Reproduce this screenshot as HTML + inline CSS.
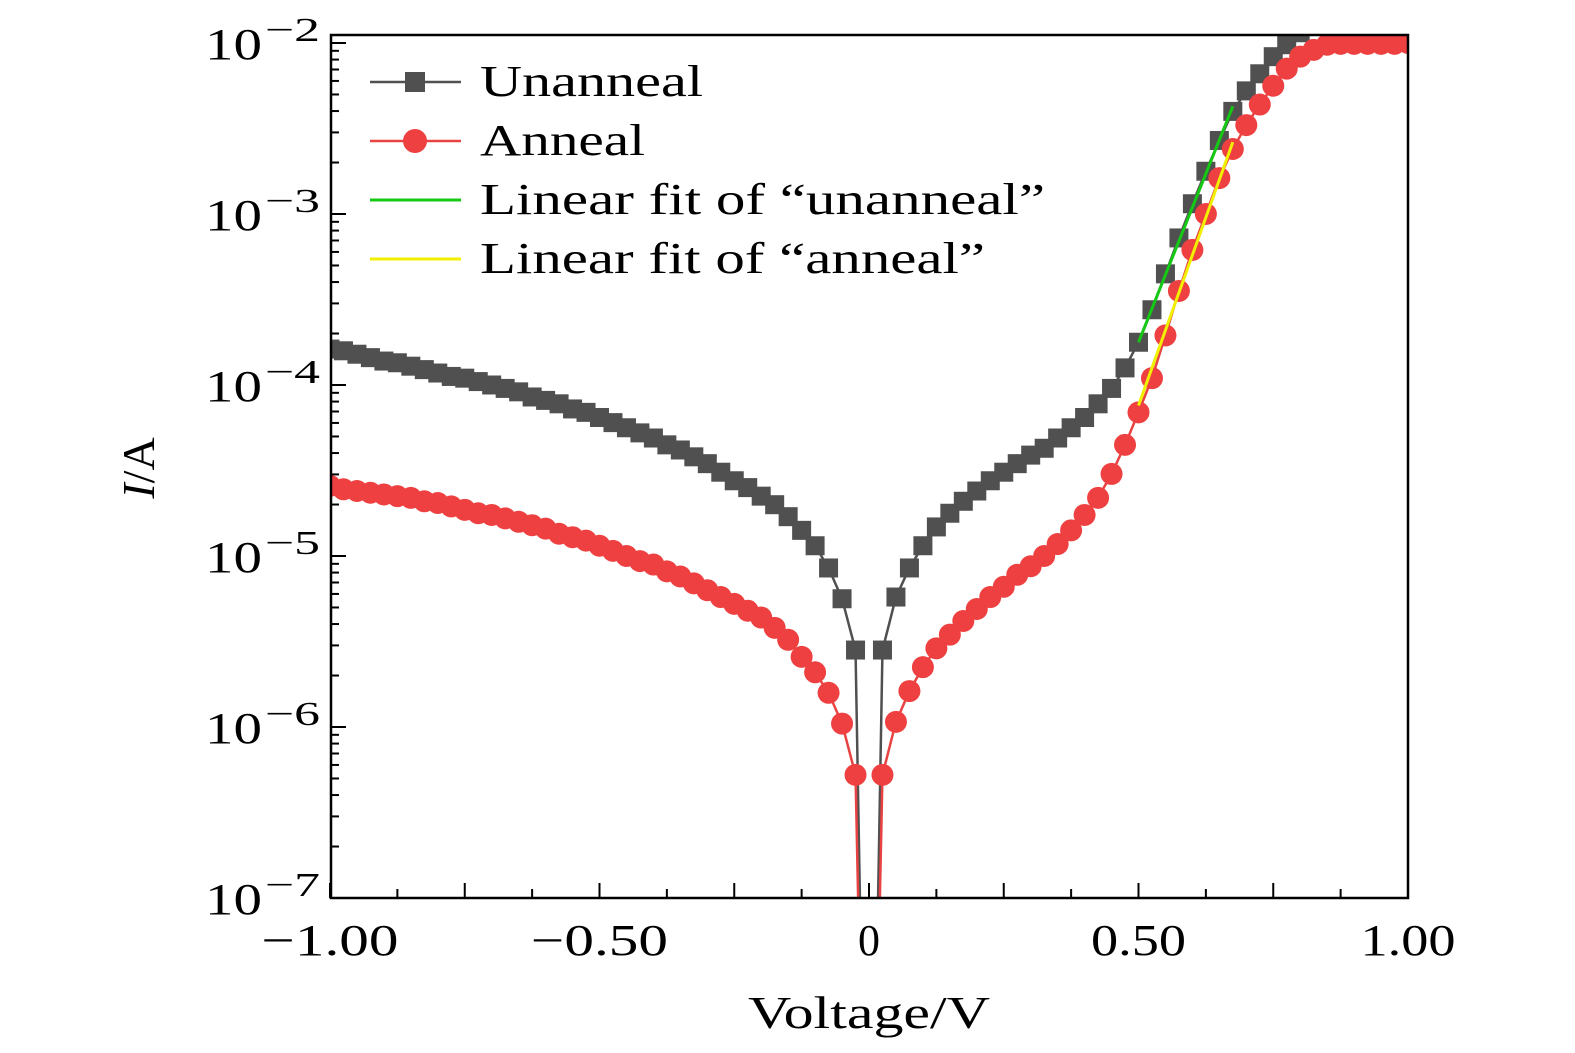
<!DOCTYPE html>
<html><head><meta charset="utf-8"><style>
html,body{margin:0;background:#fff;overflow:hidden;width:1575px;height:1053px}
svg{display:block;overflow:hidden}
svg text{font-family:"Liberation Serif",serif;fill:#000}
</style></head><body>
<svg id="chart" width="1575" height="1053" xmlns="http://www.w3.org/2000/svg">
<defs><clipPath id="clip"><rect x="331" y="35" width="1077" height="863"/></clipPath></defs>
<g id="plot" clip-path="url(#clip)"></g>
<rect x="331" y="35" width="1077" height="863" fill="none" stroke="#000" stroke-width="2.5"/>
<g id="axes"></g>
<g>
<line x1="370" y1="82" x2="461" y2="82" stroke="#505050" stroke-width="2.5"/>
<rect x="405" y="72" width="20" height="20" fill="#505050"/>
<text x="480" y="96" font-size="44" textLength="223" lengthAdjust="spacingAndGlyphs">Unanneal</text>
<line x1="370" y1="141" x2="461" y2="141" stroke="#e84242" stroke-width="2.5"/>
<circle cx="415" cy="141" r="12" fill="#ee4040"/>
<text x="480" y="155" font-size="44" textLength="165" lengthAdjust="spacingAndGlyphs">Anneal</text>
<line x1="370" y1="200" x2="461" y2="200" stroke="#14c814" stroke-width="3"/>
<text x="480" y="214" font-size="44" textLength="565" lengthAdjust="spacingAndGlyphs">Linear fit of “unanneal”</text>
<line x1="370" y1="259" x2="461" y2="259" stroke="#f0f000" stroke-width="3"/>
<text x="480" y="273" font-size="44" textLength="505" lengthAdjust="spacingAndGlyphs">Linear fit of “anneal”</text>
</g>
<text x="748" y="1028" font-size="46" textLength="242" lengthAdjust="spacingAndGlyphs">Voltage/V</text>
<text transform="translate(154,468) rotate(-90)" font-size="46" text-anchor="middle"><tspan font-style="italic">I</tspan>/A</text>
</svg>
<script>
const grayLeft=[-3.79,-3.80,-3.82,-3.84,-3.86,-3.87,-3.89,-3.91,-3.93,-3.95,-3.96,-3.98,-4.00,-4.02,-4.04,-4.07,-4.09,-4.11,-4.14,-4.16,-4.19,-4.22,-4.25,-4.28,-4.31,-4.35,-4.38,-4.42,-4.46,-4.51,-4.56,-4.60,-4.65,-4.70,-4.77,-4.85,-4.94,-5.07,-5.25,-5.55];
const grayRight=[-5.55,-5.24,-5.07,-4.94,-4.83,-4.75,-4.68,-4.62,-4.56,-4.51,-4.46,-4.41,-4.37,-4.31,-4.25,-4.19,-4.11,-4.02,-3.90,-3.75,-3.56,-3.35,-3.14,-2.94,-2.75,-2.57,-2.40,-2.28,-2.18,-2.08,-2.01,-1.94,-1.88,-1.83,-1.80,-1.78,-1.76,-1.75,-1.74,-1.73];
const redLeft=[-4.59,-4.61,-4.62,-4.63,-4.64,-4.65,-4.66,-4.68,-4.69,-4.71,-4.73,-4.75,-4.76,-4.78,-4.80,-4.82,-4.84,-4.87,-4.89,-4.91,-4.94,-4.97,-5.00,-5.03,-5.05,-5.09,-5.12,-5.16,-5.20,-5.24,-5.28,-5.32,-5.36,-5.42,-5.49,-5.59,-5.68,-5.80,-5.98,-6.28];
const redRight=[-6.28,-5.97,-5.79,-5.65,-5.54,-5.46,-5.38,-5.31,-5.24,-5.18,-5.11,-5.06,-5.00,-4.93,-4.85,-4.76,-4.66,-4.52,-4.35,-4.16,-3.96,-3.71,-3.45,-3.21,-3.00,-2.79,-2.62,-2.48,-2.36,-2.25,-2.15,-2.08,-2.04,-2.01,-2.005,-2.005,-2.005,-2.005,-2.005,-2.0];
const zeroLog=-10;
const fitGreen=[[0.5,-3.75],[0.675,-2.37]];
const fitYellow=[[0.5,-4.12],[0.675,-2.58]];
const xTicks=[-1,-0.5,0,0.5,1];
const xTickLabels=["−1.00","−0.50","0","0.50","1.00"];
const xTickWidths=[137,137,22,95,95];
const yDecades=[-2,-3,-4,-5,-6,-7];

const X=v=>869+v*539;
const Y=l=>898-(l+7)*171;
const NS="http://www.w3.org/2000/svg";
const plot=document.getElementById('plot'),axes=document.getElementById('axes');
function mk(tag,attrs,parent){const e=document.createElementNS(NS,tag);for(const k in attrs)e.setAttribute(k,attrs[k]);parent.appendChild(e);return e;}
function series(left,right){const pts=[];left.forEach((l,i)=>pts.push([-1+i*0.025,l]));pts.push([0,zeroLog]);right.forEach((l,i)=>pts.push([0.025+i*0.025,l]));return pts;}
const YMAX=900,YMIN=20;
function clipPts(px){ // geometrically clip a polyline to y range, keeping it inside the frame
  const out=[];
  for(let i=0;i<px.length;i++){
    const p=px[i];
    if(p[1]<=YMAX&&p[1]>=YMIN){out.push(p);continue;}
    const lim=p[1]>YMAX?YMAX:YMIN;
    const prev=px[i-1],next=px[i+1];
    if(prev&&prev[1]<=YMAX&&prev[1]>=YMIN){const t=(lim-prev[1])/(p[1]-prev[1]);out.push([prev[0]+t*(p[0]-prev[0]),lim]);}
    if(next&&next[1]<=YMAX&&next[1]>=YMIN){const t=(lim-next[1])/(p[1]-next[1]);out.push([next[0]+t*(p[0]-next[0]),lim]);}
  }
  return out;
}
function draw(pts,color,kind,name){
  const px=clipPts(pts.map(p=>[X(p[0]),Y(p[1])]));
  const pl=mk('polyline',{points:px.map(p=>p[0]+','+p[1]).join(' '),fill:'none',stroke:color,'stroke-width':2.5},plot);
  
  
  pts.forEach(p=>{const yy=Y(p[1]);if(yy>YMAX||yy<YMIN)return;let m;
    if(kind==='sq')m=mk('rect',{x:X(p[0])-9.5,y:yy-9.5,width:19,height:19,fill:color},plot);
    else m=mk('circle',{cx:X(p[0]),cy:yy,r:11,fill:'#ee4040'},plot);
    
    });
}
draw(series(grayLeft,grayRight),'#505050','sq','unanneal');
draw(series(redLeft,redRight),'#e84242','ci','anneal');
[[fitGreen,'#14c814','fit-unanneal'],[fitYellow,'#f0f000','fit-anneal']].forEach(([f,c,n])=>{
  const l=mk('line',{x1:X(f[0][0]),y1:Y(f[0][1]),x2:X(f[1][0]),y2:Y(f[1][1]),stroke:c,'stroke-width':3},plot);
  
  
});
for(let i=0;i<=16;i++){const v=-1+i*0.125;const major=i%2===0;
  const t=mk('line',{x1:X(v),y1:898,x2:X(v),y2:898-(major?15:9),stroke:'#000','stroke-width':2},axes);
  
  }
xTicks.forEach((v,i)=>{const w=xTickWidths[i];
  const t=mk('text',{x:X(v)-w/2,y:955,'font-size':44,textLength:w,lengthAdjust:'spacingAndGlyphs'},axes);
  t.textContent=xTickLabels[i];
  
  });
yDecades.forEach(d=>{
  const t=mk('line',{x1:331,y1:Y(d),x2:346,y2:Y(d),stroke:'#000','stroke-width':2},axes);
  
  
  if(d>-7)for(let k=2;k<=9;k++){const yy=Y(d-1+Math.log10(k));
    const m=mk('line',{x1:331,y1:yy,x2:339,y2:yy,stroke:'#000','stroke-width':2},axes);
    
    }
  const b=mk('text',{x:205,y:Y(d)+16,'font-size':44,textLength:57,lengthAdjust:'spacingAndGlyphs'},axes);
  b.textContent='10';
  
  
  const s=mk('text',{x:265,y:Y(d)-2,'font-size':34,textLength:55,lengthAdjust:'spacingAndGlyphs'},axes);
  s.textContent='−'+(-d);
  
  
});
</script>
</body></html>
